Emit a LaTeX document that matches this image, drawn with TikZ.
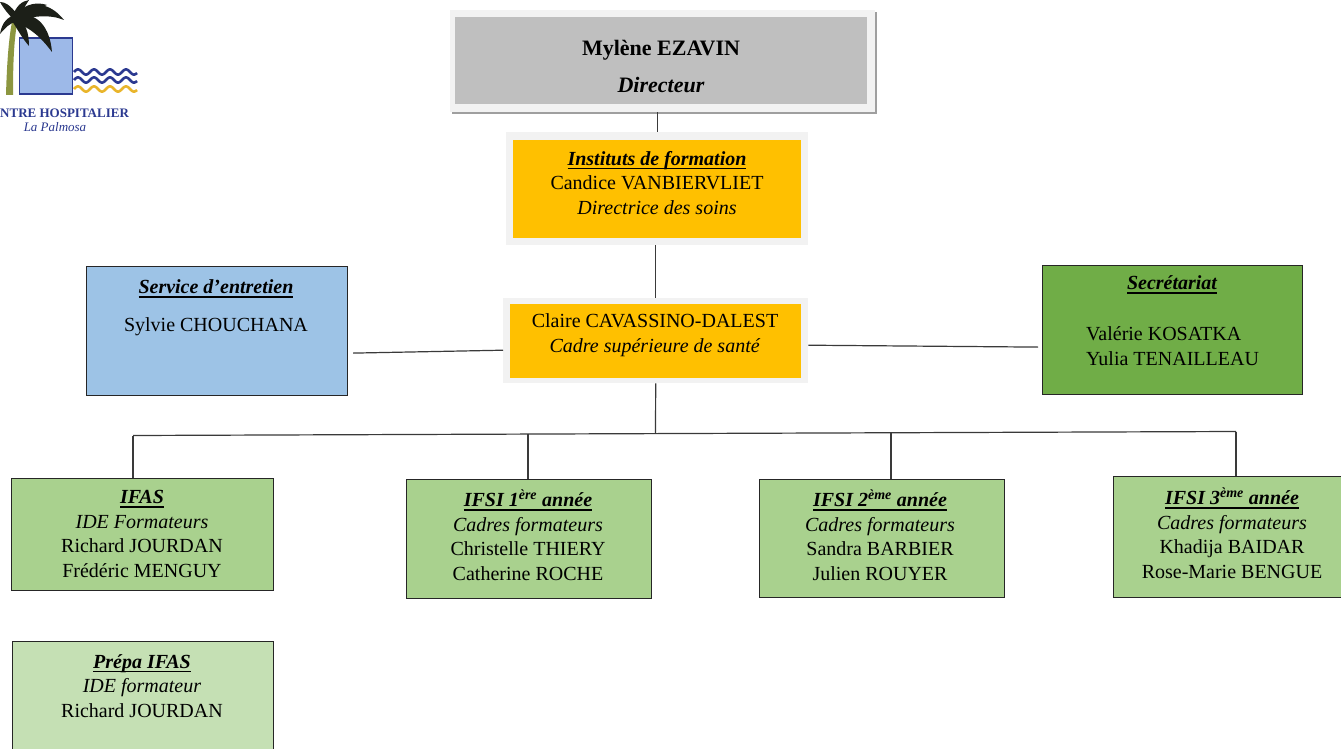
\documentclass[tikz,border=0pt]{standalone}
\usepackage{fontspec}
\setmainfont{Liberation Serif}
\usetikzlibrary{calc}
\definecolor{gframe}{HTML}{F2F2F2}
\definecolor{dirgray}{HTML}{BFBFBF}
\definecolor{orangeb}{HTML}{FFC000}
\definecolor{blueb}{HTML}{9DC3E6}
\definecolor{greensec}{HTML}{70AD47}
\definecolor{greenb}{HTML}{A9D18E}
\definecolor{greenl}{HTML}{C5E0B4}
\definecolor{bordc}{HTML}{262626}
\definecolor{linec}{HTML}{3A3A3A}
\definecolor{logoblue}{HTML}{2B3990}
\definecolor{logosq}{HTML}{9DB9E8}
\definecolor{logoyel}{HTML}{E9B52B}
\definecolor{trunkc}{HTML}{8C9640}
\definecolor{frondc}{HTML}{1C1F18}
\newcommand\hdline[1]{\setbox0\hbox{\bfseries\itshape #1}\leavevmode\rlap{\rule[-4pt]{\wd0}{1.6pt}}\box0}
\tikzset{
  boxbase/.style={rectangle, inner sep=0pt, anchor=north west},
  framebox/.style={boxbase, fill=gframe},
  drawnbox/.style={boxbase, draw=bordc, line width=1.2pt},
  txt/.style={align=center, inner sep=0pt, font=\fontsize{20}{24.5}\selectfont},
  conn/.style={draw=linec, line width=1.2pt},
  frond/.style={fill=frondc},
  wave/.style={line width=2.6pt, domain=74:137, samples=90}
}
\begin{document}
\begin{tikzpicture}[x=1pt,y=-1pt]
\clip (0,0) rectangle (1341,749);
\fill[white] (0,0) rectangle (1341,749);

% ---------- logo ----------
\draw[draw=logoblue, line width=1.8pt, fill=logosq] (19.5,38) rectangle (72.5,94);
\draw[wave, logoblue] plot (\x,{72-2.6*sin((\x-74)*22.5)});
\draw[wave, logoblue] plot (\x,{80-2.6*sin((\x-74)*22.5)});
\draw[wave, logoyel] plot (\x,{89-2.6*sin((\x-74)*22.5)});
\fill[trunkc] (6,95) .. controls (7,60) and (9,35) .. (13,17) -- (18,18) .. controls (14,38) and (13,62) .. (13,95) -- cycle;
\fill[frond] (17,14) .. controls (30,0) and (50,2) .. (64,20) .. controls (50,14) and (32,16) .. (17,21) -- cycle;
\fill[frond] (17,15) .. controls (38,12) and (50,28) .. (52,52) .. controls (40,36) and (30,28) .. (15,22) -- cycle;
\fill[frond] (16,16) .. controls (26,22) and (29,34) .. (29,46) .. controls (22,38) and (18,30) .. (12,21) -- cycle;
\fill[frond] (13,16) .. controls (16,6) and (22,1) .. (29,0) .. controls (25,6) and (22,12) .. (19,18) -- cycle;
\fill[frond] (17,14) .. controls (10,5) and (5,2) .. (0,2) .. controls (4,9) and (9,15) .. (14,20) -- cycle;
\fill[frond] (17,15) .. controls (8,16) and (2,22) .. (0,34) .. controls (5,28) and (10,23) .. (17,21) -- cycle;
\fill[frond] (16,14) .. controls (26,3) and (38,2) .. (47,5) .. controls (37,9) and (27,14) .. (19,19) -- cycle;
\node[anchor=west, inner sep=0pt, text=logoblue, font=\fontsize{13}{15}\selectfont\bfseries] (logoa) at (0,113) {NTRE HOSPITALIER};
\node[inner sep=0pt, text=logoblue, font=\fontsize{13}{15}\selectfont\itshape] (logob) at (55,127) {La Palmosa};

% ---------- boxes ----------
\fill[gray!75] (452,12) rectangle (877,114);
\node[framebox, minimum width=425pt, minimum height=102pt] (dir) at (450,10) {};
\node[boxbase, fill=dirgray, minimum width=412pt, minimum height=87pt] (dirin) at (455,17) {};
\node[framebox, minimum width=302pt, minimum height=113pt] (inst) at (506,132) {};
\node[boxbase, fill=orangeb, minimum width=288pt, minimum height=98pt] (instin) at (513,140) {};
\node[framebox, minimum width=305pt, minimum height=85pt] (cl) at (503,298) {};
\node[boxbase, fill=orangeb, minimum width=291pt, minimum height=74pt] (clin) at (510,304) {};
\node[drawnbox, fill=blueb, minimum width=261pt, minimum height=129pt] (serv) at (86,266) {};
\node[drawnbox, fill=greensec, minimum width=260pt, minimum height=129pt] (sec) at (1042,265) {};
\node[drawnbox, fill=greenb, minimum width=262pt, minimum height=112pt] (ifas) at (11,478) {};
\node[drawnbox, fill=greenb, minimum width=245pt, minimum height=119pt] (ifsi1) at (406,479) {};
\node[drawnbox, fill=greenb, minimum width=245pt, minimum height=118pt] (ifsi2) at (759,479) {};
\node[drawnbox, fill=greenb, minimum width=245pt, minimum height=121pt] (ifsi3) at (1113,476) {};
\node[drawnbox, fill=greenl, minimum width=261pt, minimum height=120pt] (prepa) at (12,641) {};

% ---------- texts ----------
\node[txt, font=\fontsize{22}{24.5}\selectfont] (tdir) at (661,66) {\textbf{Mylène EZAVIN}\\[12.5pt]\textbf{\textit{Directeur}}};
\node[txt] (tinst) at (657,183) {\hdline{Instituts de formation}\\Candice VANBIERVLIET\\\textit{Directrice des soins}};
\node[txt] (tcl) at (655,335) {Claire CAVASSINO-DALEST\\\textit{Cadre supérieure de santé}};
\node[txt] (tserv) at (216,308) {\hdline{Service d’entretien}\\[13.5pt]Sylvie CHOUCHANA};
\node[txt] (tsech) at (1172,285) {\hdline{Secrétariat}};
\node[txt, align=left, anchor=west] (tsecn) at (1086,346) {Valérie KOSATKA\\Yulia TENAILLEAU};
\node[txt] (tifas) at (142,534) {\hdline{IFAS}\\\textit{IDE Formateurs}\\Richard JOURDAN\\Frédéric MENGUY};
\node[txt] (tifsi1) at (528,535) {\hdline{IFSI 1\textsuperscript{ère} année}\\\textit{Cadres formateurs}\\Christelle THIERY\\Catherine ROCHE};
\node[txt] (tifsi2) at (880,535) {\hdline{IFSI 2\textsuperscript{ème} année}\\\textit{Cadres formateurs}\\Sandra BARBIER\\Julien ROUYER};
\node[txt] (tifsi3) at (1232,533) {\hdline{IFSI 3\textsuperscript{ème} année}\\\textit{Cadres formateurs}\\Khadija BAIDAR\\Rose-Marie BENGUE};
\node[txt] (tprepa) at (142,686) {\hdline{Prépa IFAS}\\\textit{IDE formateur}\\Richard JOURDAN};

% ---------- connectors ----------
\coordinate (busL) at (133,435.5);
\coordinate (busM) at (655.5,433);
\coordinate (busR) at (1236,431.5);
\coordinate (d1) at (528,434);
\coordinate (d2) at (891,432.5);
\draw[conn] (inst.north |- dir.south) -- (inst.north);
\draw[conn] (cl.north |- inst.south) -- (cl.north);
\draw[conn] ($(serv.east)+(5,22)$) -- ($(cl.west)+(0,9.5)$);
\draw[conn] ($(cl.east)+(0,4.5)$) -- ($(sec.west)+(-4,17)$);
\draw[conn] (cl.south) -- (busM);
\draw[conn] (busL) -- (busR);
\draw[conn] (busL) -- (busL |- ifas.north);
\draw[conn] (d1) -- (d1 |- ifsi1.north);
\draw[conn] (d2) -- (d2 |- ifsi2.north);
\draw[conn] (busR) -- (busR |- ifsi3.north);
\end{tikzpicture}
\end{document}
